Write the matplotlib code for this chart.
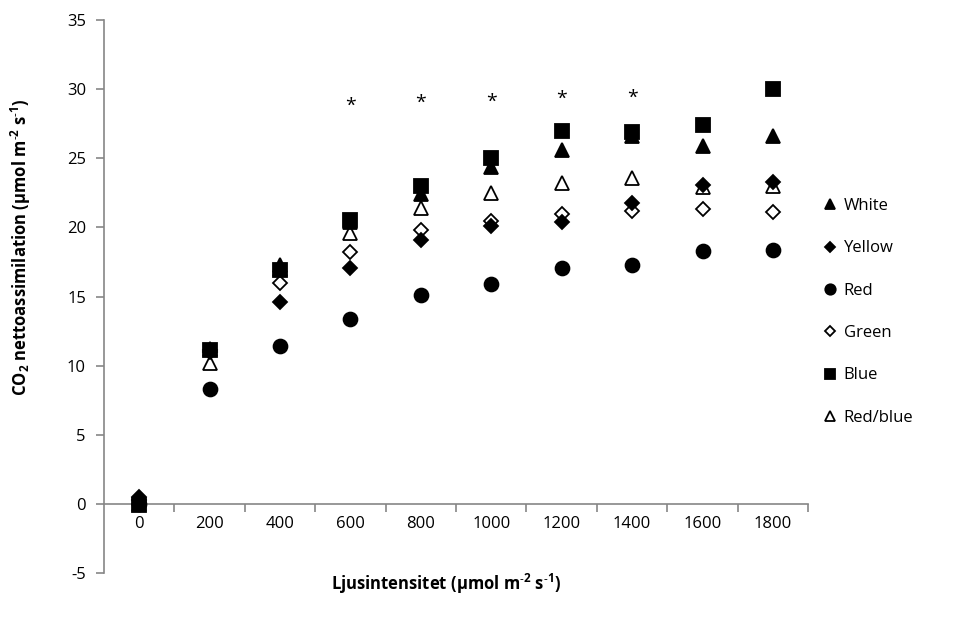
import matplotlib
matplotlib.use("Agg")
import matplotlib.pyplot as plt
import numpy as np

plt.rcParams['font.family'] = ['Open Sans', 'DejaVu Sans']
plt.rcParams['mathtext.fontset'] = 'custom'
plt.rcParams['mathtext.rm'] = 'Open Sans:bold'
plt.rcParams['mathtext.it'] = 'Open Sans:bold'
plt.rcParams['mathtext.bf'] = 'Open Sans:bold'

categories = ['0', '200', '400', '600', '800', '1000', '1200', '1400', '1600', '1800']
white   = [0.4, 11.2, 17.3, 20.4, 22.4, 24.4, 25.6, 26.6, 25.9, 26.6]
yellow  = [0.5, 11.0, 14.6, 17.1, 19.1, 20.1, 20.4, 21.8, 23.1, 23.3]
red     = [0.0, 8.3, 11.4, 13.4, 15.1, 15.9, 17.1, 17.3, 18.3, 18.4]
green   = [0.3, 11.1, 16.0, 18.2, 19.8, 20.5, 21.0, 21.2, 21.3, 21.1]
blue    = [-0.1, 11.15, 16.9, 20.55, 23.0, 25.0, 27.0, 26.9, 27.4, 30.0]
redblue = [0.0, 10.2, 17.0, 19.6, 21.4, 22.5, 23.25, 23.6, 22.9, 23.0]
star_cats = ['600', '800', '1000', '1200', '1400']
star_vals = [28.8, 29.0, 29.1, 29.3, 29.4]

fig = plt.figure(figsize=(9.69, 6.29), dpi=100)
ax = fig.add_axes([0.1073, 0.089, 0.834 - 0.1073, 0.968 - 0.089])

x = np.arange(len(categories))
series = [
    ('White', white, '^', 'black', 9.5, 3),
    ('Yellow', yellow, 'D', 'black', 6.8, 4),
    ('Red', red, 'o', 'black', 10, 3),
    ('Green', green, 'D', 'white', 6.8, 3),
    ('Blue', blue, 's', 'black', 9.5, 3.5),
    ('Red/blue', redblue, '^', 'white', 9.5, 2.5),
]
for name, vals, m, fc, ms, z in series:
    ax.plot(x, vals, linestyle='none', marker=m, markersize=ms,
            markerfacecolor=fc, markeredgecolor='black', markeredgewidth=1.3,
            label=name, zorder=z)

for c, v in zip(star_cats, star_vals):
    ax.text(categories.index(c), v, '*', ha='center', va='center', fontsize=14, color='black')

ax.set_xlim(-0.5, len(categories) - 0.5)
ax.set_ylim(-5, 35)
ax.set_yticks(np.arange(-5, 36, 5))
ax.set_yticklabels([str(v) for v in range(-5, 36, 5)])

ax.spines['top'].set_visible(False)
ax.spines['right'].set_visible(False)
ax.spines['bottom'].set_position(('data', 0))
for s in ['left', 'bottom']:
    ax.spines[s].set_color('#868686')
    ax.spines[s].set_linewidth(1.2)

FS = 12
ax.set_xticks(np.arange(0.5, len(categories), 1.0))
ax.set_xticklabels([])
ax.set_xticks(x, minor=True)
ax.set_xticklabels(categories, minor=True)
ax.tick_params(axis='x', which='major', direction='out', length=6, color='#868686', width=1.2)
ax.tick_params(axis='x', which='minor', length=0, pad=9, labelsize=FS)
ax.tick_params(axis='y', direction='out', length=6, color='#868686', width=1.2, labelsize=FS, pad=7)

ax.set_ylabel('CO$_2$ nettoassimilation (µmol m$^{\u2010 2}$ s$^{\u2010 1}$)', fontsize=FS, fontweight='bold')
ax.yaxis.set_label_coords(-0.101, 0.59)
fig.text(0.46, 0.072, 'Ljusintensitet (µmol m$^{\u2010 2}$ s$^{\u2010 1}$)', ha='center', va='center', fontsize=FS, fontweight='bold')

leg = ax.legend(loc='center left', bbox_to_anchor=(0.845, 0.504), bbox_transform=fig.transFigure,
                frameon=False, fontsize=FS, labelspacing=1.58, handlelength=0.6, handletextpad=0.5,
                markerscale=0.75, borderaxespad=0)

fig.savefig('out.png', dpi=100)
